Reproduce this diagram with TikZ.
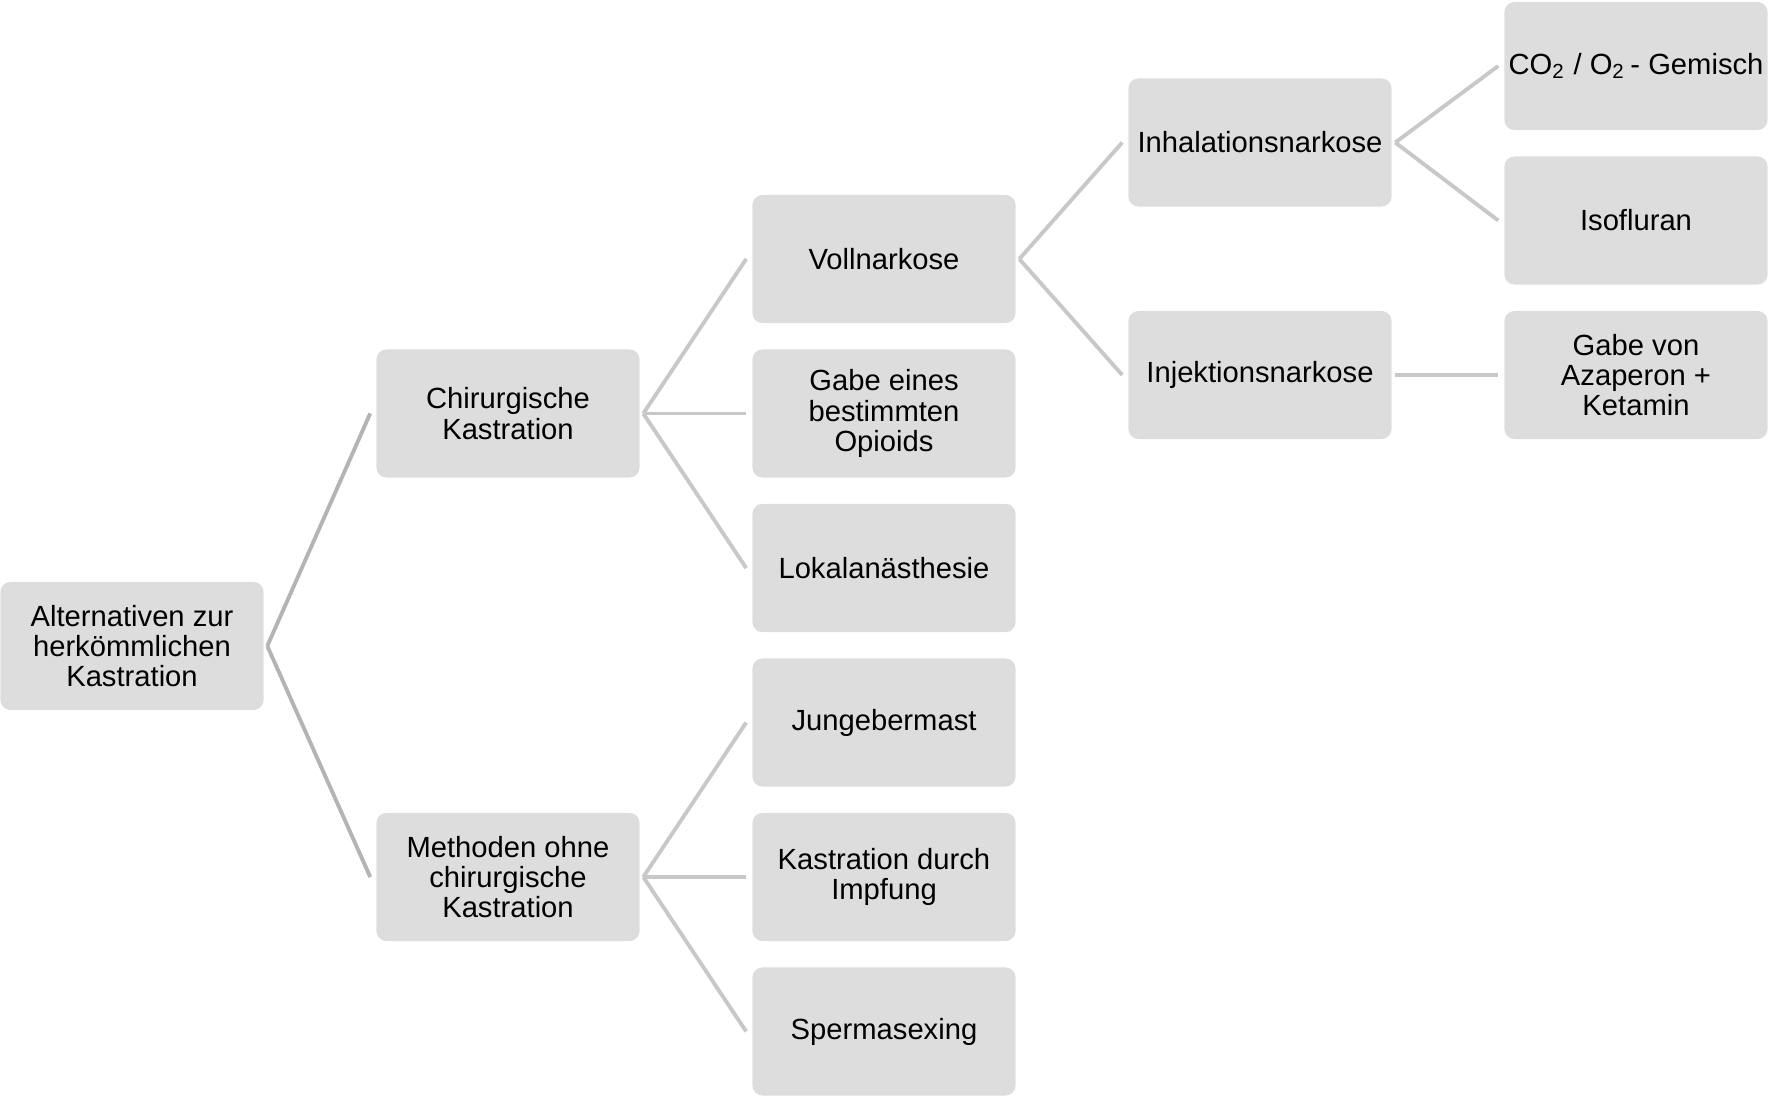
\documentclass[tikz,border=0pt]{standalone}
\usepackage{fontspec}
\setmainfont{Liberation Sans}
\usetikzlibrary{positioning}
\definecolor{boxgray}{HTML}{DDDDDD}
\definecolor{linegray}{HTML}{C8C8C8}
\definecolor{rootgray}{HTML}{B4B4B4}

\begin{document}
\begin{tikzpicture}[x=0.01cm, y=-0.01cm]
	\tikzset{n/.style={fill=boxgray, rounded corners=0.1cm, minimum width=2.63cm, minimum height=1.28cm, align=center, inner sep=0pt, font=\fontsize{8.3}{8.6}\selectfont},
	l/.style={draw=linegray, line width=1.1pt},
	lr/.style={l, draw=rootgray}};

	\useasboundingbox (0,0) rectangle (1769,1097);

	\node[n] (alt) at (132,646) {Alternativen zur\\herkömmlichen\\Kastration};

	\node[n] (chir) at (508,413.5) {Chirurgische\\Kastration};
	\node[n] (ohne) at (508,877) {Methoden ohne\\chirurgische\\Kastration};

	\node[n] (voll) at (884,259) {Vollnarkose};
	\node[n] (opio) at (884,413.5) {Gabe eines\\bestimmten\\Opioids};
	\node[n] (lokal) at (884,568) {Lokalanästhesie};
	\node[n] (eber) at (884,722.5) {Jungebermast};
	\node[n] (impf) at (884,877) {Kastration durch\\Impfung};
	\node[n] (sperm) at (884,1031.5) {Spermasexing};

	\node[n] (inhal) at (1260,142.5) {Inhalationsnarkose};
	\node[n] (injek) at (1260,375) {Injektionsnarkose};

	\node[n] (gas) at (1636,66) {CO\textsubscript{2} / O\textsubscript{2}\,- Gemisch};
	\node[n] (iso) at (1636,220.5) {Isofluran};
	\node[n] (keta) at (1636,375) {Gabe von\\Azaperon +\\Ketamin};

	\draw[lr] ([xshift=0.03cm]alt.east) -- ([xshift=-0.055cm]chir.west);
	\draw[lr] ([xshift=0.03cm]alt.east) -- ([xshift=-0.055cm]ohne.west);
	\foreach \c in {voll, opio, lokal}
		\draw[l] ([xshift=0.03cm]chir.east) -- ([xshift=-0.055cm]\c.west);
	\foreach \c in {eber, impf, sperm}
		\draw[l] ([xshift=0.03cm]ohne.east) -- ([xshift=-0.055cm]\c.west);
	\draw[l] ([xshift=0.03cm]voll.east) -- ([xshift=-0.055cm]inhal.west);
	\draw[l] ([xshift=0.03cm]voll.east) -- ([xshift=-0.055cm]injek.west);
	\draw[l] ([xshift=0.03cm]inhal.east) -- ([xshift=-0.055cm]gas.west);
	\draw[l] ([xshift=0.03cm]inhal.east) -- ([xshift=-0.055cm]iso.west);
	\draw[l] ([xshift=0.03cm]injek.east) -- ([xshift=-0.055cm]keta.west);
\end{tikzpicture}
\end{document}
